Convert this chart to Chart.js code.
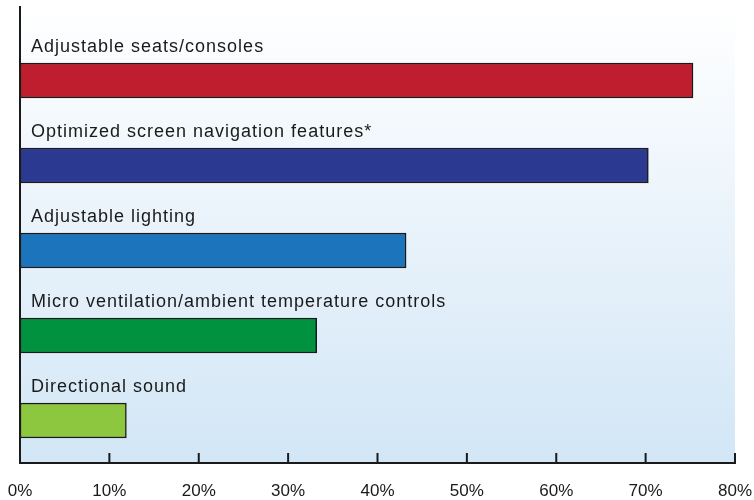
<!DOCTYPE html>
<html>
<head>
<meta charset="utf-8">
<script src="https://cdn.jsdelivr.net/npm/chart.js@4/dist/chart.umd.min.js"></script>
<style>
  html, body { margin: 0; padding: 0; background: #fff; }
  #wrap { width: 754px; height: 500px; }
</style>
</head>
<body>
<div id="wrap"><canvas id="chart" width="754" height="500"></canvas></div>
<script>
const categories = [
  "Adjustable seats/consoles",
  "Optimized screen navigation features*",
  "Adjustable lighting",
  "Micro ventilation/ambient temperature controls",
  "Directional sound"
];
const values = [75.3, 70.3, 43.2, 33.2, 11.9];
const barColors = ["#be1e2d", "#2b3990", "#1c75bc", "#00923f", "#8dc63f"];
const tickValues = [0, 10, 20, 30, 40, 50, 60, 70, 80];

const FONT = "'Liberation Sans', Arial, sans-serif";

// background gradient, axis lines, upward ticks and bar captions
const decor = {
  id: "decor",
  beforeDatasetsDraw(chart) {
    const { ctx, chartArea: a } = chart;
    const top = 6;
    const g = ctx.createLinearGradient(0, top, 0, a.bottom);
    g.addColorStop(0, "#ffffff");
    g.addColorStop(1, "#d2e6f6");
    ctx.save();
    ctx.fillStyle = g;
    ctx.fillRect(a.left, top, a.right - a.left, a.bottom - top);
    ctx.restore();
  },
  afterDatasetsDraw(chart) {
    const { ctx, chartArea: a } = chart;
    const x = chart.scales.x;
    ctx.save();
    ctx.strokeStyle = "#1a1a1a";
    ctx.lineWidth = 2;
    ctx.beginPath();
    ctx.moveTo(a.left, 6);
    ctx.lineTo(a.left, a.bottom);
    ctx.lineTo(a.right + 1, a.bottom);
    ctx.stroke();
    ctx.beginPath();
    tickValues.forEach(v => {
      const px = x.getPixelForValue(v);
      ctx.moveTo(px, a.bottom);
      ctx.lineTo(px, a.bottom - 10);
    });
    ctx.stroke();

    const meta = chart.getDatasetMeta(0);
    ctx.fillStyle = "#1a1a1a";
    ctx.font = "18px " + FONT;
    ctx.letterSpacing = "1px";
    ctx.textBaseline = "alphabetic";
    meta.data.forEach((bar, i) => {
      const topY = bar.y - bar.height / 2;
      ctx.fillText(categories[i], a.left + 11, topY - 11);
    });
    ctx.restore();
  }
};

new Chart(document.getElementById("chart"), {
  type: "bar",
  data: {
    labels: categories,
    datasets: [{
      data: values,
      backgroundColor: barColors,
      borderColor: "#1a1a1a",
      borderWidth: 1.5,
      borderSkipped: false,
      barThickness: 35
    }]
  },
  options: {
    indexAxis: "y",
    responsive: false,
    animation: false,
    layout: { padding: { top: 38, left: 20, right: 19, bottom: 0 } },
    plugins: { legend: { display: false }, tooltip: { enabled: false } },
    scales: {
      x: {
        min: 0,
        max: 80,
        afterBuildTicks(scale) {
          scale.ticks = tickValues.map(v => ({ value: v }));
        },
        afterFit(scale) {
          scale.paddingLeft = 0;
          scale.paddingRight = 0;
          scale.height = 37;
        },
        grid: { display: false, drawTicks: false },
        border: { display: false },
        ticks: {
          padding: 18,
          color: "#1a1a1a",
          font: { family: FONT, size: 17 },
          callback: v => v + "%"
        }
      },
      y: {
        afterFit(scale) {
          scale.width = 0;
          scale.paddingTop = 0;
          scale.paddingBottom = 0;
        },
        grid: { display: false, drawTicks: false },
        border: { display: false },
        ticks: { display: false }
      }
    }
  },
  plugins: [decor]
});
</script>
</body>
</html>
